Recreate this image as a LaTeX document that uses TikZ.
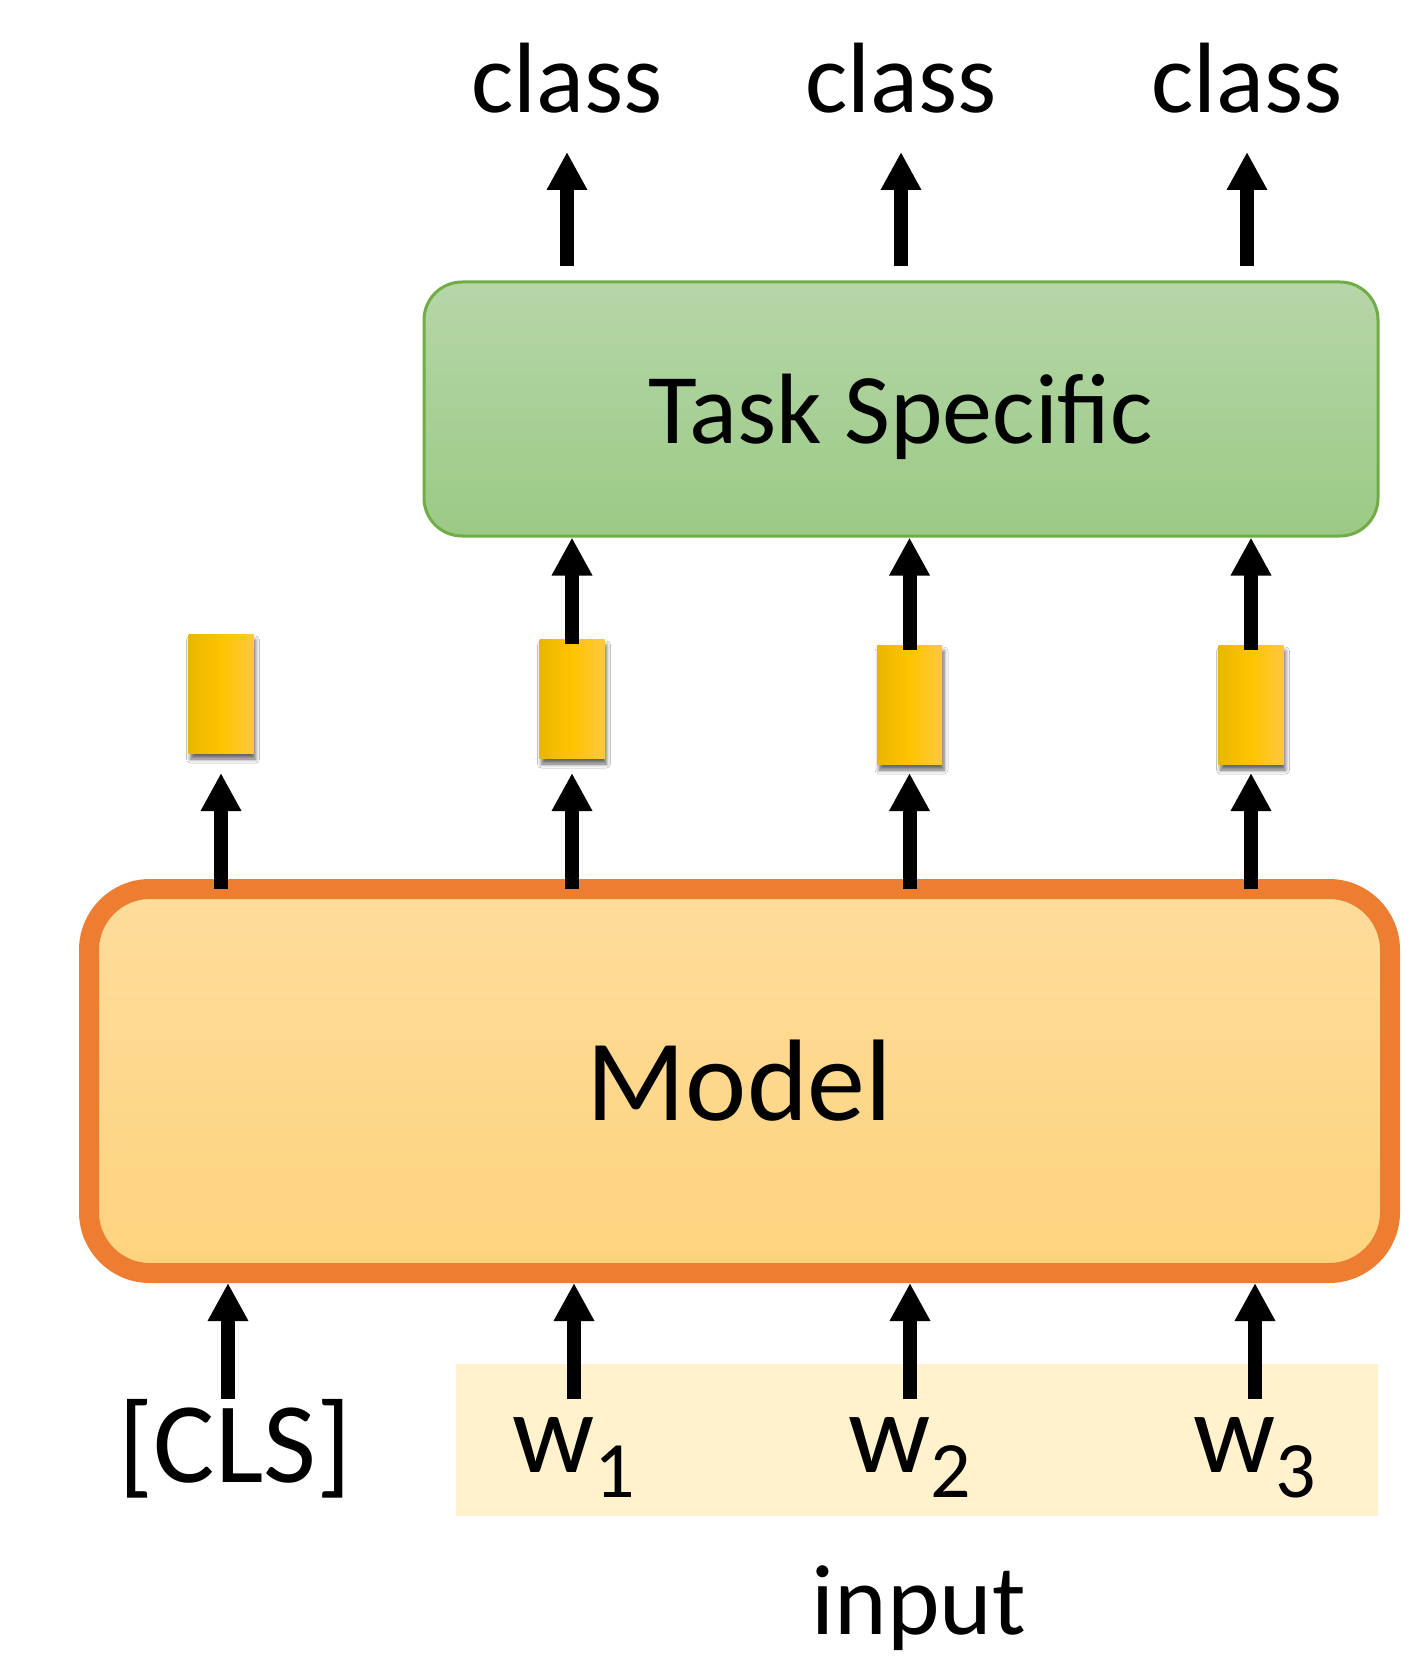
\documentclass[tikz,border=0pt]{standalone}
\usepackage{fontspec}
\setmainfont{Carlito}
\usetikzlibrary{arrows.meta,calc,shadows.blur}
\definecolor{orangeline}{HTML}{ED7D31}
\definecolor{modelT}{HTML}{FEDC9B}
\definecolor{modelB}{HTML}{FDD37D}
\definecolor{greenline}{HTML}{70AD47}
\definecolor{greenT}{HTML}{B6D6A8}
\definecolor{greenB}{HTML}{9BCA85}
\definecolor{barL}{HTML}{E9B700}
\definecolor{barM}{HTML}{FFC400}
\definecolor{barR}{HTML}{FFC83E}
\definecolor{inputfill}{HTML}{FFF2CC}
\newcommand\wsubidx[1]{\raisebox{-12.5pt}{\fontsize{40}{40}\selectfont #1}}
\begin{document}
\begin{tikzpicture}[x=0.5pt,y=-0.5pt,
  arr/.style={line width=7pt,-{Triangle[length=19pt,width=19pt]}},
  lbl/.style={inner sep=0pt,anchor=base,font=\fontsize{50}{60}\selectfont},
  big/.style={inner sep=0pt,anchor=base,font=\fontsize{57.5}{66}\selectfont},
  bar/.style={minimum width=32.5pt,minimum height=59.5pt,inner sep=0pt,
    left color=barL,right color=barR,middle color=barM,
    blur shadow={shadow xshift=1pt,shadow yshift=-3pt,shadow blur steps=5,shadow blur radius=2pt,shadow opacity=60}},
  modelbox/.style={draw=orangeline,line width=10pt,rounded corners=30.5pt,
    minimum width=650.5pt,minimum height=192pt,inner sep=0pt,
    top color=modelT,bottom color=modelB,font=\fontsize{58}{66}\selectfont},
  taskbox/.style={draw=greenline,line width=1.5pt,rounded corners=19pt,
    minimum width=477pt,minimum height=127pt,inner sep=0pt,text depth=0pt,
    top color=greenT,bottom color=greenB,font=\fontsize{50}{60}\selectfont},
  inbox/.style={fill=inputfill,minimum width=461pt,minimum height=76pt,inner sep=0pt}
]
\useasboundingbox[fill=white] (0,0) rectangle (1421,1663);

% input strip
\node[inbox] (inbox) at (917,1440) {};

% main boxes
\node[modelbox] (model) at (739.5,1081) {Model};
\node[taskbox] (task) at (901,409) {Task Specific};

% hidden vectors
\node[bar] (h0) at (221,693.5) {};
\node[bar] (h1) at (572,698.5) {};
\node[bar] (h2) at (909.5,704.5) {};
\node[bar] (h3) at (1251,704.5) {};

% labels
\node[lbl] (c1) at (567,113) {class};
\node[lbl] (c2) at (901,113) {class};
\node[lbl] (c3) at (1247,113) {class};
\node[big] (cls) at (235,1482) {[CLS]};
\node[big] (w1) at (574,1472) {w\wsubidx{1}};
\node[big] (w2) at (910,1472) {w\wsubidx{2}};
\node[big] (w3) at (1255,1472) {w\wsubidx{3}};
\node[lbl] (inp) at (919,1634) {input};

% coordinates
\coordinate (tipup) at (0,773);
\coordinate (b0) at (228,1399);
\coordinate (b1) at (574,1399);
\coordinate (b2) at (910,1399);
\coordinate (b3) at (1255,1399);

% inputs -> model
\foreach \b in {b0,b1,b2,b3}
  \draw[arr] (\b) -- (\b |- model.south);

% model -> hidden vectors
\foreach \h in {h0,h1,h2,h3}
  \draw[arr] ($(\h |- model.north)+(0,10)$) -- (\h |- tipup);

% hidden vectors -> task
\foreach \h in {h1,h2,h3}
  \draw[arr] ($(\h.north)+(0,5)$) -- (\h.north |- task.south);

% task -> classes
\foreach \c in {c1,c2,c3}
  \draw[arr] ($(task.north -| \c)+(0,-14)$) -- ($(\c.base)+(0,39)$);
\end{tikzpicture}
\end{document}
